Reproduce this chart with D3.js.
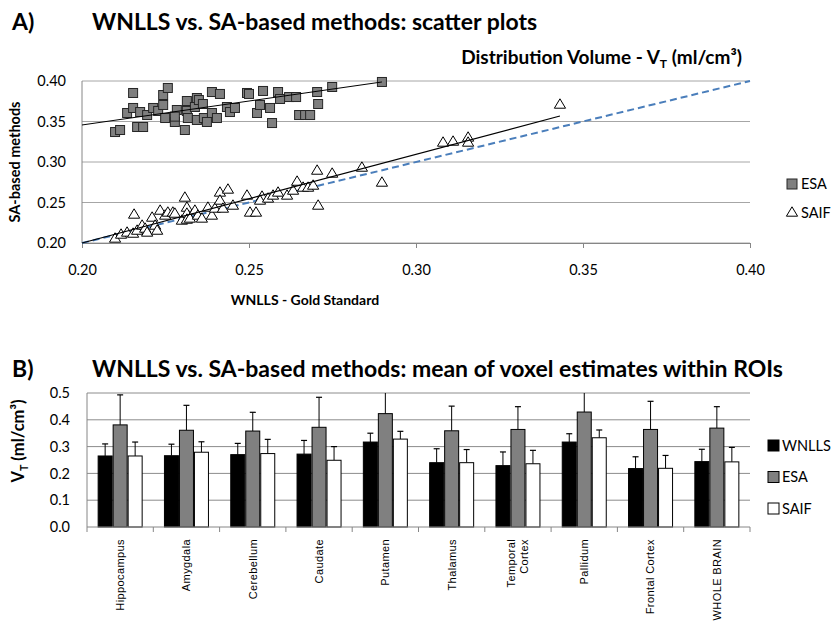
<!DOCTYPE html>
<html>
<head>
<meta charset="utf-8">
<script src="https://cdn.jsdelivr.net/npm/d3@7"></script>
<style>
  body { margin: 0; background: #fff; }
  text { font-family: Lato, "Open Sans", sans-serif; fill: #000; }
  .cat { font-family: "Liberation Sans", Arial, sans-serif; }
</style>
</head>
<body>
<svg id="fig" width="833" height="624"></svg>
<script>
// ---------- A) scatter data: [WNLLS, SA-based estimate] ----------
const esaPoints = [
  [0.2099,0.3370],[0.2114,0.3395],[0.2135,0.3605],[0.2153,0.3852],[0.2153,0.3667],
  [0.2165,0.3432],[0.2183,0.3432],[0.2174,0.3617],[0.2195,0.3580],[0.2213,0.3667],
  [0.2228,0.3630],[0.2243,0.3827],[0.2243,0.3704],[0.2257,0.3914],[0.2249,0.3543],
  [0.2278,0.3494],[0.2284,0.3642],[0.2278,0.3560],[0.2308,0.3395],[0.2314,0.3753],
  [0.2314,0.3630],[0.2317,0.3543],[0.2344,0.3790],[0.2338,0.3679],[0.2344,0.3519],
  [0.2350,0.3765],[0.2362,0.3716],[0.2365,0.3543],[0.2374,0.3494],[0.2389,0.3864],
  [0.2413,0.3840],[0.2389,0.3605],[0.2404,0.3543],[0.2434,0.3679],[0.2443,0.3617],
  [0.2458,0.3667],[0.2494,0.3852],[0.2500,0.3840],[0.2524,0.3605],[0.2533,0.3704],
  [0.2542,0.3877],[0.2563,0.3667],[0.2569,0.3481],[0.2587,0.3864],[0.2593,0.3778],
  [0.2620,0.3802],[0.2641,0.3802],[0.2650,0.3580],[0.2668,0.3580],[0.2683,0.3580],
  [0.2704,0.3864],[0.2707,0.3716],[0.2749,0.3926],[0.2898,0.3988]
];
const saifPoints = [
  [0.2099,0.2062],[0.2117,0.2111],[0.2135,0.2136],[0.2153,0.2123],[0.2156,0.2358],
  [0.2165,0.2160],[0.2180,0.2222],[0.2189,0.2185],[0.2195,0.2136],[0.2210,0.2321],
  [0.2219,0.2222],[0.2225,0.2160],[0.2234,0.2407],[0.2249,0.2346],[0.2257,0.2383],
  [0.2272,0.2383],[0.2278,0.2370],[0.2299,0.2284],[0.2308,0.2568],[0.2314,0.2444],
  [0.2314,0.2370],[0.2314,0.2296],[0.2323,0.2309],[0.2338,0.2407],[0.2347,0.2346],
  [0.2359,0.2309],[0.2377,0.2444],[0.2389,0.2346],[0.2398,0.2432],[0.2413,0.2630],
  [0.2413,0.2531],[0.2422,0.2432],[0.2437,0.2667],[0.2452,0.2469],[0.2494,0.2593],
  [0.2503,0.2383],[0.2521,0.2383],[0.2539,0.2580],[0.2533,0.2531],[0.2557,0.2556],
  [0.2572,0.2593],[0.2587,0.2630],[0.2614,0.2593],[0.2632,0.2654],[0.2644,0.2765],
  [0.2662,0.2691],[0.2677,0.2691],[0.2692,0.2716],[0.2704,0.2901],[0.2707,0.2469],
  [0.2749,0.2864],[0.2838,0.2938],[0.2898,0.2753],[0.3081,0.3247],[0.3111,0.3259],
  [0.3156,0.3309],[0.3156,0.3247],[0.3431,0.3716]
];
// linear trend lines and the line of identity, as end points
const esaTrend = [[0.20,0.3457],[0.2898,0.3988]];
const saifTrend = [[0.20,0.2000],[0.3431,0.3568]];
const identityLine = [[0.20,0.20],[0.40,0.40]];
const scatterTicks = [0.20,0.25,0.30,0.35,0.40];

// ---------- B) ROI means and upper error (SD) ----------
const regions = ["Hippocampus","Amygdala","Cerebellum","Caudate","Putamen","Thalamus",
                 "Temporal Cortex","Pallidum","Frontal Cortex","WHOLE BRAIN"];
const methods = ["WNLLS","ESA","SAIF"];
const wnllsMean = [0.265,0.266,0.270,0.272,0.317,0.240,0.229,0.317,0.218,0.244];
const wnllsSd   = [0.045,0.043,0.042,0.051,0.033,0.052,0.051,0.031,0.044,0.046];
const esaMean   = [0.381,0.361,0.358,0.372,0.423,0.359,0.364,0.429,0.364,0.369];
const esaSd     = [0.112,0.093,0.070,0.112,0.100,0.092,0.085,0.095,0.105,0.080];
const saifMean  = [0.265,0.279,0.274,0.249,0.328,0.240,0.236,0.333,0.219,0.243];
const saifSd    = [0.052,0.039,0.053,0.051,0.029,0.049,0.050,0.029,0.048,0.054];
const barTicks  = [0,0.1,0.2,0.3,0.4,0.5];

const svg = d3.select("#fig");
const gridColor = "#a6a6a6";
const axisColor = "#868686";
const titleSize = 23;

// ===================== A) scatter plots =====================
const xS = d3.scaleLinear().domain([0.20,0.40]).range([82,750]);
const yS = d3.scaleLinear().domain([0.20,0.40]).range([243,81]);

svg.append("text").attr("x",12).attr("y",30).attr("font-size",titleSize).attr("font-weight",700).text("A)");
svg.append("text").attr("x",92).attr("y",30).attr("font-size",titleSize).attr("font-weight",700)
  .text("WNLLS vs. SA-based methods: scatter plots");

const vt = svg.append("text").attr("x",742).attr("y",64).attr("text-anchor","end")
  .attr("font-size",19).attr("font-weight",700);
vt.append("tspan").text("Distribution Volume - V");
vt.append("tspan").attr("font-size",12).attr("dy",4).text("T");
vt.append("tspan").attr("dy",-4).text(" (ml/cm³)");

const gA = svg.append("g");
gA.selectAll("line.grid").data(scatterTicks).join("line")
  .attr("x1",xS(0.20)).attr("x2",xS(0.40))
  .attr("y1",d=>yS(d)).attr("y2",d=>yS(d))
  .attr("stroke",gridColor).attr("stroke-width",1);
gA.append("line").attr("x1",xS(0.20)).attr("x2",xS(0.20))
  .attr("y1",yS(0.40)).attr("y2",yS(0.20)).attr("stroke",axisColor);

const xAxisA = d3.axisBottom(xS).tickValues(scatterTicks).tickFormat(d3.format(".2f"))
  .tickSizeInner(5).tickSizeOuter(0).tickPadding(17);
const gxA = gA.append("g").attr("transform",`translate(0,${yS(0.20)})`).call(xAxisA);
gxA.select(".domain").attr("stroke",axisColor);
gxA.selectAll(".tick line").attr("stroke",axisColor);
gxA.selectAll("text").attr("font-size",14.5).attr("font-family","Lato, sans-serif");

const yAxisA = d3.axisLeft(yS).tickValues(scatterTicks).tickFormat(d3.format(".2f"))
  .tickSize(0).tickPadding(16);
const gyA = gA.append("g").attr("transform",`translate(${xS(0.20)},0)`).call(yAxisA);
gyA.select(".domain").remove();
gyA.selectAll("text").attr("font-size",14.5).attr("font-family","Lato, sans-serif");

const lineA = d3.line().x(d=>xS(d[0])).y(d=>yS(d[1]));
gA.append("path").attr("d",lineA(identityLine)).attr("fill","none")
  .attr("stroke","#4a7ebb").attr("stroke-width",2).attr("stroke-dasharray","7,4");

const tri = "M0,-5.2L5.6,4.2L-5.6,4.2Z";
gA.selectAll("path.saif").data(saifPoints).join("path").attr("class","saif")
  .attr("d",tri).attr("transform",d=>`translate(${xS(d[0])},${yS(d[1])})`)
  .attr("fill","#fff").attr("stroke","#000").attr("stroke-width",1);
gA.selectAll("rect.esa").data(esaPoints).join("rect").attr("class","esa")
  .attr("x",d=>xS(d[0])-4.5).attr("y",d=>yS(d[1])-4.5).attr("width",9).attr("height",9)
  .attr("fill","#7f7f7f").attr("stroke","#262626").attr("stroke-width",1);

gA.append("path").attr("d",lineA(saifTrend)).attr("fill","none").attr("stroke","#000").attr("stroke-width",1.2);
gA.append("path").attr("d",lineA(esaTrend)).attr("fill","none").attr("stroke","#000").attr("stroke-width",1);

svg.append("text").attr("transform","translate(20,162) rotate(-90)").attr("text-anchor","middle")
  .attr("font-size",14.5).attr("font-weight",700).text("SA-based methods");
svg.append("text").attr("x",305).attr("y",305).attr("text-anchor","middle")
  .attr("font-size",14).attr("font-weight",700).text("WNLLS - Gold Standard");

// legend A
svg.append("rect").attr("x",787).attr("y",179).attr("width",10).attr("height",10)
  .attr("fill","#7f7f7f").attr("stroke","#262626");
svg.append("text").attr("x",801).attr("y",189).attr("font-size",14.5).text("ESA");
svg.append("path").attr("d",tri).attr("transform","translate(792,212)")
  .attr("fill","#fff").attr("stroke","#000");
svg.append("text").attr("x",801).attr("y",218).attr("font-size",14.5).text("SAIF");

// ===================== B) ROI bar chart =====================
const xB = d3.scaleBand().domain(regions).range([87,750]).padding(0);
const groupW = 45;
const xM = d3.scaleBand().domain(methods).range([0,groupW]);
const yB = d3.scaleLinear().domain([0,0.5]).range([527,393]);

svg.append("text").attr("x",12).attr("y",377).attr("font-size",titleSize).attr("font-weight",700).text("B)");
svg.append("text").attr("x",92).attr("y",377).attr("font-size",titleSize).attr("font-weight",700)
  .text("WNLLS vs. SA-based methods: mean of voxel estimates within ROIs");

const gB = svg.append("g");
svg.append("defs").append("clipPath").attr("id","clipB")
  .append("rect").attr("x",80).attr("y",yB(0.5)).attr("width",680).attr("height",yB(0)-yB(0.5)+2);

gB.selectAll("line.grid").data(barTicks.slice(1)).join("line")
  .attr("x1",87).attr("x2",750).attr("y1",d=>yB(d)).attr("y2",d=>yB(d))
  .attr("stroke","#8c8c8c").attr("stroke-width",1);
gB.append("line").attr("x1",87).attr("x2",87).attr("y1",yB(0.5)).attr("y2",yB(0)).attr("stroke",axisColor);

const yAxisB = d3.axisLeft(yB).tickValues(barTicks).tickFormat(d3.format(".1f")).tickSize(0).tickPadding(17);
const gyB = gB.append("g").attr("transform","translate(87,0)").call(yAxisB);
gyB.select(".domain").remove();
gyB.selectAll("text").attr("font-size",14.5).attr("font-family","Lato, sans-serif");

const series = [
  {name:"WNLLS", mean:wnllsMean, sd:wnllsSd, fill:"#000"},
  {name:"ESA",   mean:esaMean,   sd:esaSd,   fill:"#808080"},
  {name:"SAIF",  mean:saifMean,  sd:saifSd,  fill:"#fff"}
];
const barData = [];
series.forEach(s => regions.forEach((r,i) => barData.push({region:r, method:s.name, v:s.mean[i], sd:s.sd[i], fill:s.fill})));
const bx = d => xB(d.region) + (xB.bandwidth()-groupW)/2 + xM(d.method);

const gBars = gB.append("g").attr("clip-path","url(#clipB)");
// error bars (upper half only)
gBars.selectAll("line.err").data(barData).join("line")
  .attr("x1",d=>bx(d)+xM.bandwidth()/2).attr("x2",d=>bx(d)+xM.bandwidth()/2)
  .attr("y1",d=>yB(d.v)).attr("y2",d=>yB(d.v+d.sd)).attr("stroke","#000").attr("stroke-width",1);
gBars.selectAll("line.cap").data(barData).join("line")
  .attr("x1",d=>bx(d)+xM.bandwidth()/2-3).attr("x2",d=>bx(d)+xM.bandwidth()/2+3)
  .attr("y1",d=>yB(d.v+d.sd)).attr("y2",d=>yB(d.v+d.sd)).attr("stroke","#000").attr("stroke-width",1.2);
gBars.selectAll("rect.bar").data(barData).join("rect")
  .attr("x",d=>bx(d)+0.5).attr("y",d=>yB(d.v)).attr("width",xM.bandwidth()-1).attr("height",d=>yB(0)-yB(d.v))
  .attr("fill",d=>d.fill).attr("stroke","#000").attr("stroke-width",1);

// x axis with boundary ticks
gB.append("line").attr("x1",87).attr("x2",750).attr("y1",yB(0)).attr("y2",yB(0)).attr("stroke",axisColor);
const bounds = regions.map(r => xB(r)).concat([750]);
gB.selectAll("line.btick").data(bounds).join("line")
  .attr("x1",d=>d).attr("x2",d=>d).attr("y1",yB(0)).attr("y2",yB(0)+5).attr("stroke",axisColor);

// rotated region labels
regions.forEach(r => {
  const words = r === "Temporal Cortex" ? ["Temporal","Cortex"] : [r];
  const cx = xB(r) + xB.bandwidth()/2;
  const t = gB.append("text").attr("class","cat")
    .attr("transform",`translate(${cx},${yB(0)+12}) rotate(-90)`)
    .attr("text-anchor","end").attr("font-size",11).attr("letter-spacing",0.4);
  words.forEach((w,k) => t.append("tspan").attr("x",0)
    .attr("dy", words.length === 1 ? "0.35em" : (k === 0 ? "-0.25em" : "1.15em")).text(w));
});

const vtB = svg.append("text").attr("transform","translate(24,441) rotate(-90)").attr("text-anchor","middle")
  .attr("font-size",16.5).attr("font-weight",700);
vtB.append("tspan").text("V");
vtB.append("tspan").attr("font-size",10.5).attr("dy",4).text("T");
vtB.append("tspan").attr("dy",-4).text(" (ml/cm³)");

// legend B
series.forEach((s,i) => {
  const yy = 445 + i*31.5;
  svg.append("rect").attr("x",768).attr("y",yy-5).attr("width",11).attr("height",11)
    .attr("fill",s.fill).attr("stroke","#000");
  svg.append("text").attr("x",782).attr("y",yy+5.5).attr("font-size",14.5).text(s.name);
});
</script>
</body>
</html>
